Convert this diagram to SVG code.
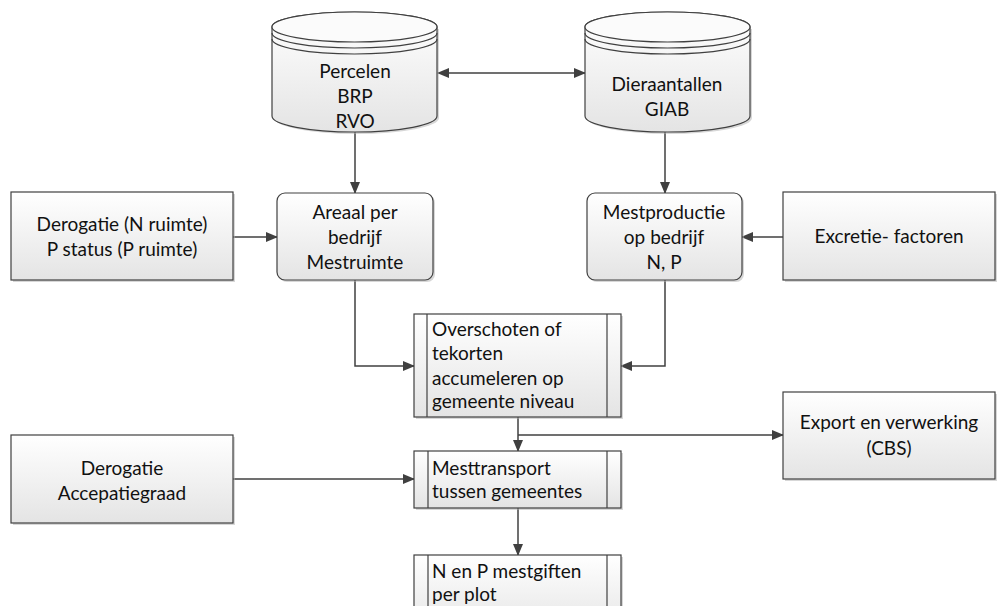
<svg xmlns="http://www.w3.org/2000/svg" width="998" height="606" viewBox="0 0 998 606">
<defs>
<linearGradient id="g" x1="0" y1="0" x2="0" y2="1">
<stop offset="0" stop-color="#ffffff"/>
<stop offset="1" stop-color="#e4e4e4"/>
</linearGradient>
<marker id="ah" markerWidth="12" markerHeight="10" refX="11" refY="5" orient="auto" markerUnits="userSpaceOnUse">
<path d="M0,0 L12,5 L0,10 Z" fill="#404040"/>
</marker>
<marker id="ahs" markerWidth="12" markerHeight="10" refX="1" refY="5" orient="auto" markerUnits="userSpaceOnUse">
<path d="M12,0 L0,5 L12,10 Z" fill="#404040"/>
</marker>
</defs>
<style>
.b{fill:url(#g);stroke:#404040;stroke-width:1.2}
.s{fill:#b0b0b0;opacity:0.5}
.l{fill:none;stroke:#404040;stroke-width:1.5}
.t{font-family:Lato,"Open Sans",sans-serif;font-size:19px;fill:#111}
.c{text-anchor:middle}
</style>
<rect width="998" height="606" fill="#ffffff"/>

<g id="connectors">
<line class="l" x1="438" y1="73" x2="585" y2="73" marker-start="url(#ahs)" marker-end="url(#ah)"/>
<line class="l" x1="355" y1="132" x2="355" y2="193" marker-end="url(#ah)"/>
<line class="l" x1="665" y1="132" x2="665" y2="193" marker-end="url(#ah)"/>
<line class="l" x1="233" y1="237" x2="277" y2="237" marker-end="url(#ah)"/>
<line class="l" x1="783" y1="237" x2="742" y2="237" marker-end="url(#ah)"/>
<polyline class="l" points="355,280 355,366 414,366" marker-end="url(#ah)"/>
<polyline class="l" points="665,280 665,366 621,366" marker-end="url(#ah)"/>
<line class="l" x1="518" y1="417" x2="518" y2="451" marker-end="url(#ah)"/>
<polyline class="l" points="518,435 783,435" marker-end="url(#ah)"/>
<line class="l" x1="233" y1="479" x2="414" y2="479" marker-end="url(#ah)"/>
<line class="l" x1="518" y1="508" x2="518" y2="555" marker-end="url(#ah)"/>
</g>

<g id="percelen">
<path class="s" d="M274,29 V118 A82.5,16 0 0 0 439,118 V29 Z"/>
<path class="b" d="M272,27 V116 A82.5,16 0 0 0 437,116 V27 A82.5,15 0 0 0 272,27 Z"/>
<ellipse cx="354.5" cy="27" rx="82.5" ry="15" fill="#fbfbfb" stroke="#404040" stroke-width="1.2"/>
<path d="M272,33 A82.5,15 0 0 0 437,33" fill="none" stroke="#404040" stroke-width="1.2"/>
<path d="M272,39 A82.5,15 0 0 0 437,39" fill="none" stroke="#404040" stroke-width="1.2"/>
<text class="t c" x="355" y="78">Percelen</text>
<text class="t c" x="355" y="103">BRP</text>
<text class="t c" x="355" y="128">RVO</text>
</g>

<g id="dieraantallen">
<path class="s" d="M587,29 V118 A82.5,16 0 0 0 752,118 V29 Z"/>
<path class="b" d="M585,27 V116 A82.5,16 0 0 0 750,116 V27 A82.5,15 0 0 0 585,27 Z"/>
<ellipse cx="667.5" cy="27" rx="82.5" ry="15" fill="#fbfbfb" stroke="#404040" stroke-width="1.2"/>
<path d="M585,33 A82.5,15 0 0 0 750,33" fill="none" stroke="#404040" stroke-width="1.2"/>
<path d="M585,39 A82.5,15 0 0 0 750,39" fill="none" stroke="#404040" stroke-width="1.2"/>
<text class="t c" x="667" y="91">Dieraantallen</text>
<text class="t c" x="667" y="116">GIAB</text>
</g>

<g id="derogatie1">
<rect class="s" x="13" y="194" width="222" height="88"/>
<rect class="b" x="11" y="192" width="222" height="88"/>
<text class="t c" x="122" y="231">Derogatie (N ruimte)</text>
<text class="t c" x="122" y="256">P status (P ruimte)</text>
</g>

<g id="areaal">
<rect class="s" x="279" y="195" width="156" height="87" rx="8"/>
<rect class="b" x="277" y="193" width="156" height="87" rx="8"/>
<text class="t c" x="355" y="219">Areaal per</text>
<text class="t c" x="355" y="244">bedrijf</text>
<text class="t c" x="355" y="269">Mestruimte</text>
</g>

<g id="mestproductie">
<rect class="s" x="589" y="195" width="155" height="87" rx="8"/>
<rect class="b" x="587" y="193" width="155" height="87" rx="8"/>
<text class="t c" x="664" y="219">Mestproductie</text>
<text class="t c" x="664" y="244">op bedrijf</text>
<text class="t c" x="664" y="269">N, P</text>
</g>

<g id="excretie">
<rect class="s" x="785" y="194" width="212" height="88"/>
<rect class="b" x="783" y="192" width="212" height="88"/>
<text class="t c" x="889" y="243">Excretie- factoren</text>
</g>

<g id="overschoten">
<rect class="s" x="416" y="316" width="207" height="103"/>
<rect class="b" x="414" y="314" width="207" height="103"/>
<line x1="427" y1="314" x2="427" y2="417" stroke="#404040" stroke-width="1.2"/>
<line x1="607" y1="314" x2="607" y2="417" stroke="#404040" stroke-width="1.2"/>
<text class="t" x="432" y="336">Overschoten of</text>
<text class="t" x="432" y="360">tekorten</text>
<text class="t" x="432" y="385">accumeleren op</text>
<text class="t" x="432" y="408">gemeente niveau</text>
</g>

<g id="export">
<rect class="s" x="785" y="394" width="212" height="87"/>
<rect class="b" x="783" y="392" width="212" height="87"/>
<text class="t c" x="889" y="429">Export en verwerking</text>
<text class="t c" x="889" y="455">(CBS)</text>
</g>

<g id="derogatie2">
<rect class="s" x="13" y="437" width="222" height="88"/>
<rect class="b" x="11" y="435" width="222" height="88"/>
<text class="t c" x="122" y="475">Derogatie</text>
<text class="t c" x="122" y="500">Accepatiegraad</text>
</g>

<g id="mesttransport">
<rect class="s" x="416" y="453" width="207" height="57"/>
<rect class="b" x="414" y="451" width="207" height="57"/>
<line x1="428" y1="451" x2="428" y2="508" stroke="#404040" stroke-width="1.2"/>
<line x1="607" y1="451" x2="607" y2="508" stroke="#404040" stroke-width="1.2"/>
<text class="t" x="432" y="475">Mesttransport</text>
<text class="t" x="432" y="498">tussen gemeentes</text>
</g>

<g id="mestgiften">
<rect class="s" x="416" y="557" width="207" height="80"/>
<rect class="b" x="414" y="555" width="207" height="80"/>
<line x1="428" y1="555" x2="428" y2="635" stroke="#404040" stroke-width="1.2"/>
<line x1="607" y1="555" x2="607" y2="635" stroke="#404040" stroke-width="1.2"/>
<text class="t" x="432" y="578">N en P mestgiften</text>
<text class="t" x="432" y="601">per plot</text>
</g>
</svg>
